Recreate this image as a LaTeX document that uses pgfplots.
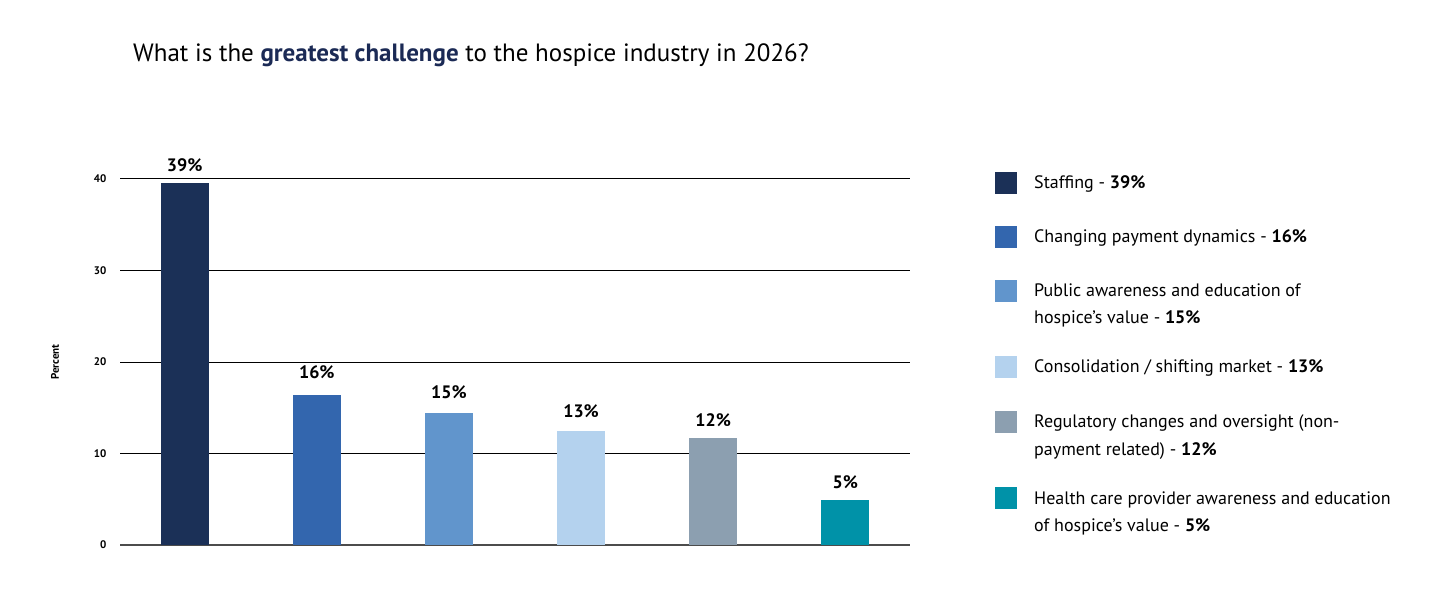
\documentclass[border=0pt]{standalone}
\usepackage{fontspec}
\setmainfont{PT Sans}
\usepackage{pgfplots}
\pgfplotsset{compat=1.18}
\definecolor{c1}{HTML}{1B3057}
\definecolor{c2}{HTML}{3366AE}
\definecolor{c3}{HTML}{6195CC}
\definecolor{c4}{HTML}{B4D2EE}
\definecolor{c5}{HTML}{8C9FB0}
\definecolor{c6}{HTML}{0092A8}
\definecolor{titlenavy}{HTML}{1B2A55}
\begin{document}
\begin{tikzpicture}
\useasboundingbox (0,0) rectangle (1456pt,600pt);
\node[anchor=base west, inner sep=0pt, font=\fontsize{25}{29}\selectfont] at (133pt,538pt)
  {What is the \textbf{\color{titlenavy}greatest challenge} to the hospice industry in 2026?};
\begin{axis}[
  at={(120pt,55pt)}, anchor=south west,
  scale only axis, width=790pt, height=366pt,
  xmin=-0.49, xmax=5.49, ymin=0, ymax=40,
  ybar, bar width=48pt, bar shift=0pt,
  axis x line=bottom, axis y line=left,
  y axis line style={draw=none},
  x axis line style={draw=black!70, line width=1.5pt, -},
  xtick=\empty, ytick={0,10,20,30,40},
  major tick length=0pt,
  ymajorgrids, grid style={black, line width=1pt},
  /pgf/number format/assume math mode=true,
  yticklabel style={font=\bfseries\fontsize{11}{13}\selectfont, xshift=-10pt},
  ylabel={Percent},
  ylabel style={at={(axis description cs:-0.0823,0.5)}, anchor=center, font=\bfseries\fontsize{11}{13}\selectfont},
  point meta=explicit symbolic,
  nodes near coords,
  every node near coord/.append style={font=\bfseries\fontsize{18}{21}\selectfont, fill=white, inner sep=2pt, yshift=9pt},
  clip=false,
]
\addplot[fill=c1, draw=none] coordinates {(0,39.6) [39\%]};
\addplot[fill=c2, draw=none, every node near coord/.append style={yshift=5pt}] coordinates {(1,16.4) [16\%]};
\addplot[fill=c3, draw=none, every node near coord/.append style={yshift=3pt}] coordinates {(2,14.4) [15\%]};
\addplot[fill=c4, draw=none, every node near coord/.append style={yshift=2pt}] coordinates {(3,12.5) [13\%]};
\addplot[fill=c5, draw=none] coordinates {(4,11.7) [12\%]};
\addplot[fill=c6, draw=none] coordinates {(5,4.9) [5\%]};
\end{axis}
\begin{scope}[every node/.style={anchor=base west, inner sep=0pt, font=\fontsize{18}{21}\selectfont}]
\fill[c1] (995pt,406pt) rectangle (1017pt,428pt);
\node at (1034pt,411pt) {Staffing - \textbf{39\%}};
\fill[c2] (995pt,352pt) rectangle (1017pt,374pt);
\node at (1034pt,357pt) {Changing payment dynamics - \textbf{16\%}};
\fill[c3] (995pt,298pt) rectangle (1017pt,320pt);
\node at (1034pt,303pt) {Public awareness and education of};
\node at (1034pt,276pt) {hospice’s value - \textbf{15\%}};
\fill[c4] (995pt,222pt) rectangle (1017pt,244pt);
\node at (1034pt,227pt) {Consolidation / shifting market - \textbf{13\%}};
\fill[c5] (995pt,167pt) rectangle (1017pt,189pt);
\node at (1034pt,172pt) {Regulatory changes and oversight (non-};
\node at (1034pt,145pt) {payment related) - \textbf{12\%}};
\fill[c6] (995pt,91pt) rectangle (1017pt,113pt);
\node at (1034pt,96pt) {Health care provider awareness and education};
\node at (1034pt,69pt) {of hospice’s value - \textbf{5\%}};
\end{scope}
\end{tikzpicture}
\end{document}
